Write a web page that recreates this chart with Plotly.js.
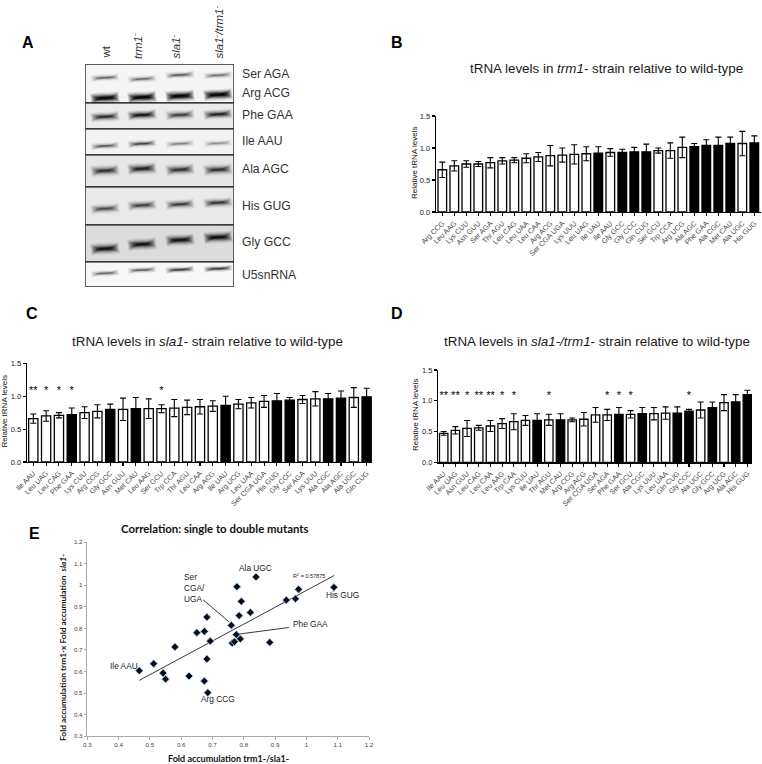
<!DOCTYPE html>
<html><head><meta charset="utf-8">
<script src="https://cdn.plot.ly/plotly-3.0.1.min.js"></script>
<style>html,body{margin:0;padding:0;background:#fff}#c{width:762px;height:764px}</style></head>
<body><div id="c"></div>
<script>
// ---------- Data ----------
const catsB = ['Arg CCG','Leu AAG','Lys CUU','Asn GUU','Ser AGA','Thr AGU','Leu CAG','Leu UAA','Leu CAA','Arg ACG','Ser CGA UGA','Lys UUU','Leu UAG','Ile UAU','Ile AAU','Gly GCC','Gly CCC','Gln CUG','Ser GCU','Trp CCA','Arg UCG','Ala AGC','Phe GAA','Ala CGC','Met CAU','Ala UGC','His GUG'];
const valsB = [.66,.72,.75,.75,.77,.80,.81,.84,.86,.88,.89,.90,.91,.92,.93,.93,.94,.94,.96,.96,1.01,1.02,1.04,1.04,1.07,1.07,1.08];
const topsB = [.78,.80,.80,.79,.85,.85,.85,.91,.93,1.04,1.0,1.05,1.02,1.02,.99,.98,1.01,1.06,1.0,1.08,1.17,1.07,1.13,1.17,1.17,1.26,1.19];

const catsC = ['Ile AAU','Leu UAG','Leu CAG','Phe GAA','Lys CUU','Arg CCG','Gly GCC','Asn GUU','Met CAU','Leu AAG','Ser GCU','Trp CCA','Thr AGU','Leu CAA','Arg ACG','Ile UAU','Arg UCG','Leu UAA','Ser CGA UGA','His GUG','Gly CCC','Ser AGA','Lys UUU','Ala CGC','Ala AGC','Ala UGC','Gln CUG'];
const valsC = [.66,.70,.71,.72,.75,.77,.80,.80,.81,.81,.81,.82,.83,.84,.85,.86,.88,.90,.92,.93,.94,.95,.96,.96,.97,.98,.99];
const topsC = [.73,.78,.75,.82,.84,.87,.88,.97,.98,.96,.87,.95,.94,.95,.93,1.0,.95,.98,1.01,1.04,.98,1.01,1.07,1.04,1.08,1.13,1.12];
const starsC = {'Ile AAU':'**','Leu UAG':'*','Leu CAG':'*','Phe GAA':'*','Ser GCU':'*'};

const catsD = ['Ile AAU','Leu UAG','Asn GUU','Leu CAG','Leu CAA','Leu AAG','Trp CAA','Lys CUU','Ile UAU','Thr AGU','Met CAU','Arg CCG','Arg ACG','Ser CGA UGA','Ser AGA','Phe GAA','Ser GCU','Ala CGC','Lys UUU','Leu UAA','Gln CUG','Gly CCC','Ala UGC','Gly GCC','Arg UCG','Ala AGC','His GUG'];
const valsD = [.47,.52,.55,.56,.59,.63,.66,.68,.68,.69,.69,.69,.70,.77,.77,.78,.78,.79,.79,.80,.80,.83,.85,.89,.97,.98,1.10];
const topsD = [.50,.58,.68,.60,.68,.71,.79,.76,.79,.78,.79,.72,.81,.89,.86,.89,.84,.89,.89,.90,.90,.86,.98,.98,1.10,1.10,1.17];
const starsD = {'Ile AAU':'**','Leu UAG':'**','Asn GUU':'*','Leu CAG':'**','Leu CAA':'**','Leu AAG':'*','Trp CAA':'*','Thr AGU':'*','Ser AGA':'*','Phe GAA':'*','Ser GCU':'*','Gly CCC':'*'};

const blackB = ['Ile UAU','Gly GCC','Gly CCC','Gln CUG','Ala AGC','Phe GAA','Ala CGC','Met CAU','His GUG'];
const blackC = ['Phe GAA','Gly GCC','Met CAU','Ile UAU','His GUG','Gly CCC','Ala CGC','Ala AGC','Gln CUG'];
const blackD = ['Ile UAU','Met CAU','Phe GAA','Ala CGC','Gln CUG','Gly CCC','Gly GCC','Ala AGC','His GUG'];

const corrX = [.466,.512,.542,.55,.58,.625,.65,.674,.674,.682,.682,.685,.693,.76,.763,.77,.776,.778,.785,.789,.792,.821,.839,.883,.936,.965,.975,1.088];
const corrY = [.604,.636,.593,.565,.714,.579,.78,.786,.556,.852,.658,.502,.741,.814,.732,.738,.771,.993,.859,.751,.925,.874,1.038,.735,.931,.937,.981,.990];
const trendX = [.466,1.089], trendY = [.559,1.045];
const leadSerX = [.67,.753], leadSerY = [.932,.83];
const leadPheX = [.782,.944], leadPheY = [.773,.804];

const laneNames = ['wt','<i>trm1</i><sup>-</sup>','<i>sla1</i><sup>-</sup>','<i>sla1</i><sup>-</sup><i>/trm1</i><sup>-</sup>'];
const blotLabels = ['Ser AGA','Arg ACG','Phe GAA','Ile AAU','Ala AGC','His GUG','Gly GCC','U5snRNA'];
const laneCentres = [105,142,180,218];
const bandSerY = [77.7,79,75,75.3], bandSerD = [.5,.46,.55,.44];
const bandArgY = [98,97.3,96,94.7], bandArgD = [1.5,1.5,1.5,1.5];
const bandPheY = [116.7,115,115,114.3], bandPheD = [.85,1.1,.7,.95];
const bandIleY = [146,143.7,143.7,143.3], bandIleD = [.55,.68,.36,.3];
const bandAlaY = [170.7,168.7,169.7,169.7], bandAlaD = [.8,.95,.8,.8];
const bandHisY = [208.7,205.3,204.3,202.7], bandHisD = [.62,.68,.7,.75];
const bandGlyY = [248.7,244.3,240,237.3], bandGlyD = [1.15,1.15,1.15,1.25];
const bandU5Y = [273.3,270,269.7,268.7], bandU5D = [.5,.55,.78,.78];
const rowTops = [64,103,129,155,187,225,262];
const rowBottoms = [103,129,155,187,225,262,287];
const rowShades = ['#f5f5f5','#ebebeb','#f3f3f3','#e6e6e6','#e9e9e9','#dcdcdc','#f8f8f8'];

// ---------- Helpers ----------
const W = 762, H = 764;
const px = x => x / W, py = y => 1 - y / H;
const dx = (l, r) => [px(l), px(r)];
const dy = (t, b) => [py(b), py(t)];
const traces = [], annotations = [], shapes = [];
const layout = {width: W, height: H, margin: {l:0, r:0, t:0, b:0}, showlegend: false,
  paper_bgcolor:'#fff', plot_bgcolor:'rgba(0,0,0,0)', font:{family:'Liberation Sans, Arial, sans-serif', color:'#222'},
  annotations, shapes};

function text(x, y, t, size, opts) {
  const o = opts || {};
  const f = Object.assign({size, color:'#1a1a1a'}, o.font || {});
  annotations.push(Object.assign({xref:'paper', yref:'paper', x:px(x), y:py(y), text:t, showarrow:false,
    xanchor:'center', yanchor:'middle', borderpad:0}, o, {font:f}));
}

function barPanel(n, cats, vals, tops, black, stars, geo, starY) {
  const xa = 'x' + n, ya = 'y' + n;
  traces.push({type:'bar', x:cats, y:vals, xaxis:xa, yaxis:ya,
    width:.72,
    marker:{color:cats.map(c => black.includes(c) ? '#000' : '#fff'), line:{color:'#000', width:1.3}},
    error_y:{type:'data', array:tops.map((t,i) => +(t - vals[i]).toFixed(3)), color:'#000', thickness:1.1, width:3},
    hoverinfo:'skip'});
  const sc = cats.filter(c => stars[c]);
  if (sc.length) traces.push({type:'scatter', mode:'text', x:sc, y:sc.map(() => starY), text:sc.map(c => stars[c]),
    textfont:{size:11, color:'#000'}, textposition:'middle center', xaxis:xa, yaxis:ya, cliponaxis:false, hoverinfo:'skip'});
  layout['xaxis'+n] = {domain:dx(geo.l, geo.r), anchor:ya, type:'category', categoryorder:'array', categoryarray:cats,
    range:[(geo.l-geo.first)/geo.sp, (geo.r-geo.first)/geo.sp],
    tickangle:-45, tickfont:{size:7.2, color:'#444'}, ticks:'outside', ticklen:3, tickwidth:1.1, tickcolor:'#000',
    showline:true, linecolor:'#000', linewidth:1.4, showgrid:false, zeroline:false, automargin:false, dtick:1};
  layout['yaxis'+n] = {domain:dy(geo.t, geo.b), anchor:xa, range:[0,1.5], tickvals:[0,.5,1,1.5], ticktext:['0.0','0.5','1.0','1.5'],
    tickfont:{size:7.5, color:'#222'}, ticks:'outside', ticklen:3, tickwidth:1.1, tickcolor:'#000',
    showline:true, linecolor:'#000', linewidth:1.4, showgrid:false, zeroline:false, automargin:false};
}

barPanel('',  catsB, valsB, topsB, blackB, {},     {l:436,r:761,t:116,b:212,first:442.3,sp:12}, 0);
barPanel('2', catsC, valsC, topsC, blackC, starsC, {l:27,r:372,t:363.3,b:462,first:33.3,sp:12.82}, 1.08);
barPanel('3', catsD, valsD, topsD, blackD, starsD, {l:438.3,r:752,t:370,b:462.3,first:443.7,sp:11.68}, 1.08);

// Blot panel
const bx = 'x4', by = 'y4';
const blotAxis = r => ({range:r, showticklabels:false, ticks:'', showline:false, showgrid:false, zeroline:false, fixedrange:true});
layout.xaxis4 = Object.assign(blotAxis([85,234]), {domain:dx(85,234), anchor:by});
layout.yaxis4 = Object.assign(blotAxis([287,64]), {domain:dy(64,287), anchor:bx});
rowTops.forEach((t,i) => shapes.push({type:'rect', xref:bx, yref:by, x0:85, x1:234, y0:t, y1:rowBottoms[i],
  fillcolor:rowShades[i], line:{color:'#000', width:1}, layer:'below'}));
shapes.push({type:'rect', xref:bx, yref:by, x0:85, x1:234, y0:64, y1:287, line:{color:'#555', width:1.3}});
const bandRows = [[bandSerY,bandSerD,.6],[bandArgY,bandArgD,.95],[bandPheY,bandPheD,.85],[bandIleY,bandIleD,.6],
  [bandAlaY,bandAlaD,1],[bandHisY,bandHisD,.85],[bandGlyY,bandGlyD,1],[bandU5Y,bandU5D,.55]];
const layers = [[12,.05,1.02],[10,.08,.98],[8,.12,.93],[6.2,.18,.85],[4.6,.26,.75],[3,.4,.62],[1.8,.5,.45]];
bandRows.forEach(([ys,ds,scale]) => ys.forEach((y,i) => {
  const c = laneCentres[i];
  layers.forEach(([w,a,h]) => {
    const hw = 14 * h;
    traces.push({type:'scatter', mode:'lines', x:[c-hw, c-hw*.4, c+hw*.4, c+hw], y:[y+1.1*h, y+.1, y-.1, y-1.1*h],
      line:{shape:'spline', color:`rgba(0,0,0,${Math.min(1,a*ds[i]).toFixed(3)})`, width:w*scale}, xaxis:bx, yaxis:by, hoverinfo:'skip'});
  });
}));
const laneLabelX = [105,137,175.5,218];
laneNames.forEach((t,i) => text(laneLabelX[i], 60, t, 11.5, {textangle:-90, yanchor:'bottom', font:{color:'#333'}}));
const rowLabelY = [74,93,115,141,169,206,242,275];
blotLabels.forEach((t,i) => text(241, rowLabelY[i], t, 12.2, {xanchor:'left', font:{color:'#333'}}));

// Scatter panel
const corrTicks = [.3,.4,.5,.6,.7,.8,.9,1,1.1,1.2];
const corrTickText = ['0.3','0.4','0.5','0.6','0.7','0.8','0.9','1','1.1','1.2'];
const corrAxis = () => ({range:[.3,1.2], tickvals:corrTicks, ticktext:corrTickText, tickfont:{size:6.2,color:'#444'},
  ticks:'outside', ticklen:2.5, tickcolor:'#aaa', showline:true, linecolor:'#aaa', linewidth:1, showgrid:false, zeroline:false});
layout.xaxis5 = Object.assign(corrAxis(), {domain:dx(87.3,369), anchor:'y5'});
layout.yaxis5 = Object.assign(corrAxis(), {domain:dy(542,736.3), anchor:'x5'});
[[trendX,trendY],[leadSerX,leadSerY],[leadPheX,leadPheY]].forEach(([x,y]) =>
  traces.push({type:'scatter', mode:'lines', x, y, xaxis:'x5', yaxis:'y5', line:{color:'#222', width:.9}, hoverinfo:'skip'}));
traces.push({type:'scatter', mode:'markers', x:corrX, y:corrY, xaxis:'x5', yaxis:'y5',
  marker:{symbol:'diamond', size:6, color:'#060a18', line:{color:'#a9c6e4', width:.9}}, hoverinfo:'skip'});

// Text
text(606, 68, 'tRNA levels in <i>trm1</i>- strain relative to wild-type', 13.4);
text(207, 341, 'tRNA levels in <i>sla1</i>- strain relative to wild-type', 13.4);
text(596.5, 341, 'tRNA levels in <i>sla1-/trm1</i>- strain relative to wild-type', 13.4);
text(414, 163, 'Relative tRNA levels', 8, {textangle:-90, font:{color:'#111'}});
text(4.5, 412, 'Relative tRNA levels', 8, {textangle:-90, font:{color:'#111'}});
text(415, 415, 'Relative tRNA levels', 8, {textangle:-90, font:{color:'#111'}});
[['A',28,42],['B',397,43],['C',32,314],['D',397,314],['E',34,533]].forEach(([t,x,y]) =>
  text(x, y, t, 16, {font:{color:'#000', weight:'bold'}}));
const lato = 'Lato, Liberation Sans, sans-serif';
text(215, 528, 'Correlation: single to double mutants', 11.4, {font:{family:lato, color:'#111', weight:'bold'}});
text(228, 758, 'Fold accumulation trm1-/sla1-', 9, {font:{family:lato, color:'#111', weight:'bold'}});
text(63, 648, 'Fold accumulation trm1-x Fold accumulation  <i>sla1-</i>', 8.4, {textangle:-90, font:{family:lato, color:'#111', weight:'bold'}});
text(255, 568, 'Ala UGC', 8.3);
text(183, 588, 'Ser<br>CGA/<br>UGA', 8.3, {xanchor:'left', align:'left'});
text(342, 595, 'His GUG', 8.3);
text(310, 624, 'Phe GAA', 8.3);
text(124, 666, 'Ile AAU', 8.3);
text(218, 699, 'Arg CCG', 8.3);
text(309, 576, 'R<sup>2</sup> = 0.57875', 5.5);

Plotly.newPlot('c', traces, layout, {displayModeBar:false, staticPlot:true});
</script></body></html>
